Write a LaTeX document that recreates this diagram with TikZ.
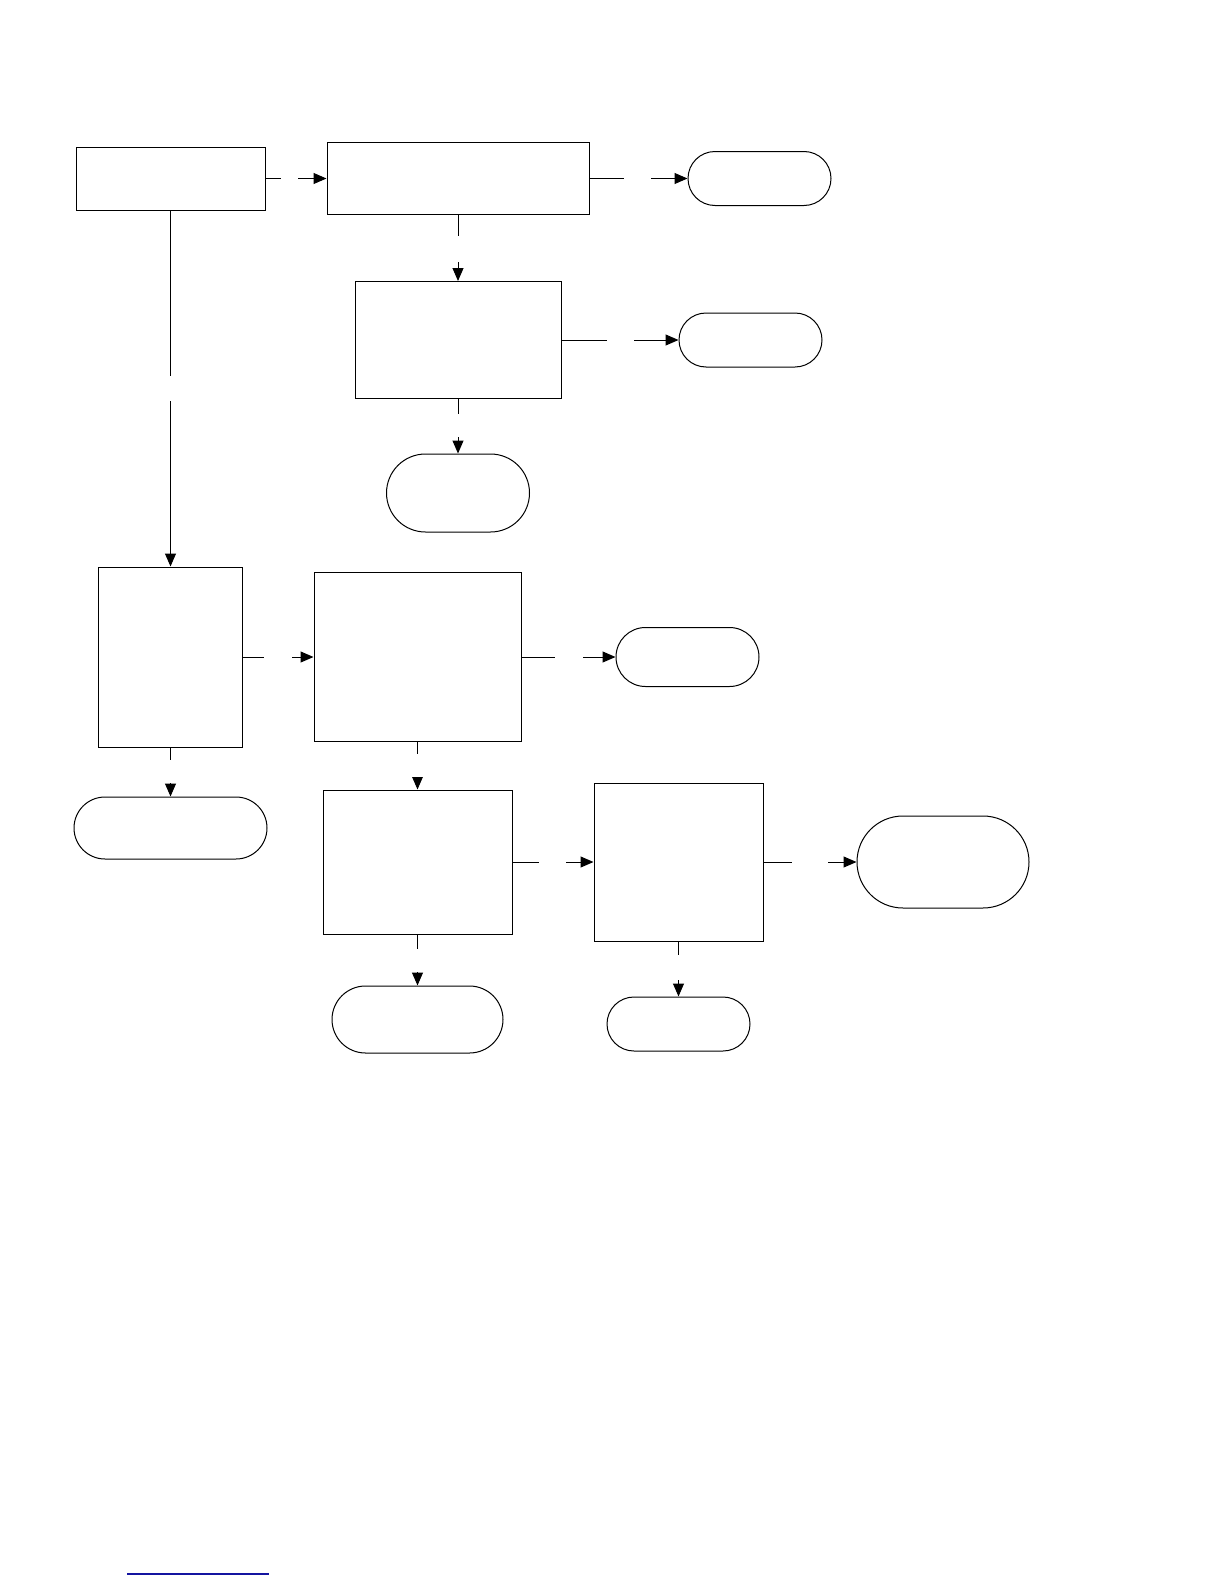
\documentclass[tikz,border=0pt]{standalone}
\usetikzlibrary{arrows.meta,shapes.misc}
\definecolor{footblue}{RGB}{20,20,160}
\tikzset{
  every picture/.style={x=1pt,y=-1pt},
  procbox/.style={draw, line width=1pt, rectangle, inner sep=0pt},
  termbox/.style={draw, line width=1pt, rounded rectangle, rounded rectangle arc length=180, inner sep=0pt},
  conn/.style={line width=1pt, -{Triangle[length=13pt,width=11pt]}},
  gapnode/.style={fill=white, inner sep=0pt, minimum size=#1}
}
\begin{document}
\begin{tikzpicture}
\useasboundingbox (0,0) rectangle (1224,1584);
% process boxes
\node[procbox, minimum width=189, minimum height=63] (A) at (170.5,178.5) {};
\node[procbox, minimum width=262, minimum height=72] (B) at (458,178.5) {};
\node[procbox, minimum width=206, minimum height=117] (C) at (458,340) {};
\node[procbox, minimum width=144, minimum height=180] (D) at (170.5,657) {};
\node[procbox, minimum width=207, minimum height=169] (E) at (417.5,657) {};
\node[procbox, minimum width=189, minimum height=144] (F) at (417.5,862) {};
\node[procbox, minimum width=169, minimum height=158] (G) at (678.5,862) {};
% terminals
\node[termbox, minimum width=143, minimum height=54] (T1) at (759.5,178.5) {};
\node[termbox, minimum width=143, minimum height=54] (T2) at (750.5,340) {};
\node[termbox, minimum width=143, minimum height=78] (T3) at (458,493) {};
\node[termbox, minimum width=143, minimum height=59] (T4) at (687.5,657) {};
\node[termbox, minimum width=193, minimum height=62] (T5) at (170.5,828) {};
\node[termbox, minimum width=172, minimum height=92] (T6) at (943,862) {};
\node[termbox, minimum width=171, minimum height=67] (T7) at (417.5,1019.5) {};
\node[termbox, minimum width=143, minimum height=54] (T8) at (678.5,1024) {};
% connectors
\draw[conn] (A.east) -- node[gapnode=17, pos=0.40] (lAB) {} (B.west);
\draw[conn] (B.east) -- node[gapnode=27, pos=0.49] (lBT1) {} (T1.west);
\draw[conn] (B.south) -- node[gapnode=26, pos=0.51] (lBC) {} (C.north);
\draw[conn] (C.east) -- node[gapnode=27, midway] (lCT2) {} (T2.west);
\draw[conn] (C.south) -- node[gapnode=23, pos=0.49] (lCT3) {} (T3.north);
\draw[conn] (A.south) -- node[gapnode=25, midway] (lAD) {} (D.north);
\draw[conn] (D.east) -- node[gapnode=28, midway] (lDE) {} (E.west);
\draw[conn] (E.east) -- node[gapnode=28, pos=0.505] (lET4) {} (T4.west);
\draw[conn] (D.south) -- node[gapnode=23, pos=0.49] (lDT5) {} (T5.north);
\draw[conn] (E.south) -- node[gapnode=23, midway] (lEF) {} (F.north);
\draw[conn] (F.east) -- node[gapnode=27, pos=0.49] (lFG) {} (G.west);
\draw[conn] (G.east) -- node[gapnode=36, midway] (lGT6) {} (T6.west);
\draw[conn] (F.south) -- node[gapnode=23, midway] (lFT7) {} (T7.north);
\draw[conn] (G.south) -- node[gapnode=25, pos=0.47] (lGT8) {} (T8.north);
% footnote rule
\draw[footblue, line width=1.3pt] (127,1574) -- (269,1574);
\end{tikzpicture}
\end{document}
